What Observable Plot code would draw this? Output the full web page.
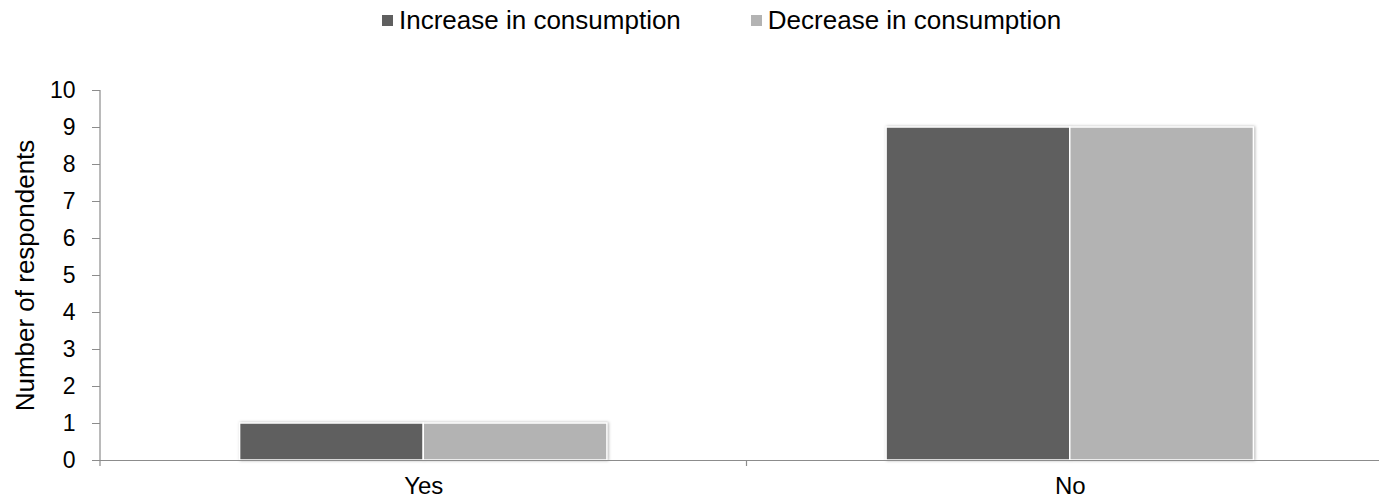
<!DOCTYPE html>
<html>
<head>
<meta charset="utf-8">
<script src="https://cdn.jsdelivr.net/npm/d3@7"></script>
<script src="https://cdn.jsdelivr.net/npm/@observablehq/plot@0.6"></script>
<style>
  html, body { margin: 0; padding: 0; background: #fff; overflow: hidden; }
  #legend {
    height: 50px; box-sizing: border-box; padding-top: 0px; padding-left: 382px;
    display: flex; justify-content: flex-start; align-items: flex-start; gap: 70px;
    font: 26px "Liberation Sans", Arial, sans-serif; color: #000; line-height: 30px;
  }
  #legend .item { display: flex; align-items: center; height: 40px; white-space: nowrap; }
  #legend .sw { width: 11px; height: 11px; margin-right: 6px; }
  #chart svg { display: block; }
</style>
</head>
<body>
<div id="legend"></div>
<div id="chart"></div>
<script>
// Responses per answer, split by the direction of the change in consumption
const answers = ["Yes", "No"];
const series = ["Increase in consumption", "Decrease in consumption"];
const increase = [1, 9];
const decrease = [1, 9];
const colors = ["#5f5f5f", "#b3b3b3"];
const yTicks = [0, 1, 2, 3, 4, 5, 6, 7, 8, 9, 10];

const rows = answers.flatMap((a, i) => [
  { answer: a, series: series[0], count: increase[i] },
  { answer: a, series: series[1], count: decrease[i] }
]);

// Legend
const legend = d3.select("#legend");
series.forEach((s, i) => {
  const item = legend.append("div").attr("class", "item");
  item.append("div").attr("class", "sw").style("background", colors[i]);
  item.append("span").text(s);
});

const axisColor = "#8c8c8c";

const chart = Plot.plot({
  width: 1393,
  height: 452,
  marginLeft: 100,
  marginRight: 0,
  marginTop: 40,
  marginBottom: 42,
  style: { fontFamily: "'Liberation Sans', Arial, sans-serif", fontSize: "23px", color: "#000", background: "#fff" },
  fx: { domain: answers, padding: 0, round: false, label: null, axis: null },
  x: { domain: series, paddingInner: 0, paddingOuter: 0.76, round: false, axis: null },
  y: { domain: [0, 10] },
  color: { domain: series, range: colors },
  marks: [
    Plot.barY(rows, { fx: "answer", x: "series", y: "count", fill: "series", stroke: "white", strokeWidth: 1.5 }),
    Plot.ruleY([0], { stroke: axisColor, strokeWidth: 1.2 }),
    Plot.axisY(yTicks, { tickSize: 8, tickPadding: 17, stroke: axisColor, fontSize: 23,
      label: "Number of respondents", labelAnchor: "center", labelArrow: "none", labelOffset: 85 }),
    Plot.axisFx({ anchor: "bottom", tickSize: 0, tickPadding: 16, label: null, fontSize: 24 })
  ]
});
chart.style.maxWidth = "none";
document.getElementById("chart").appendChild(chart);

// The axis title is a little larger than the tick labels
d3.select(chart).selectAll("g[aria-label='y-axis label'] text").style("font-size", "26px");

// Soft shadow on the bars
d3.select(chart).selectAll("g[aria-label='bar']").style("filter", "drop-shadow(1.5px 0.5px 1.5px rgba(0,0,0,0.3))");

// Vertical axis line and category boundary ticks, from the chart's own scales
const fx = chart.scale("fx");
const y = chart.scale("y");
const g = d3.select(chart).append("g").attr("stroke", axisColor).attr("stroke-width", 1.2);
const y0 = y.apply(0);
g.append("line")
  .attr("x1", fx.apply(answers[0])).attr("x2", fx.apply(answers[0]))
  .attr("y1", y.apply(10)).attr("y2", y0 + 6);
answers.slice(1).forEach(a => {
  g.append("line")
    .attr("x1", fx.apply(a)).attr("x2", fx.apply(a))
    .attr("y1", y0).attr("y2", y0 + 6);
});
</script>
</body>
</html>
